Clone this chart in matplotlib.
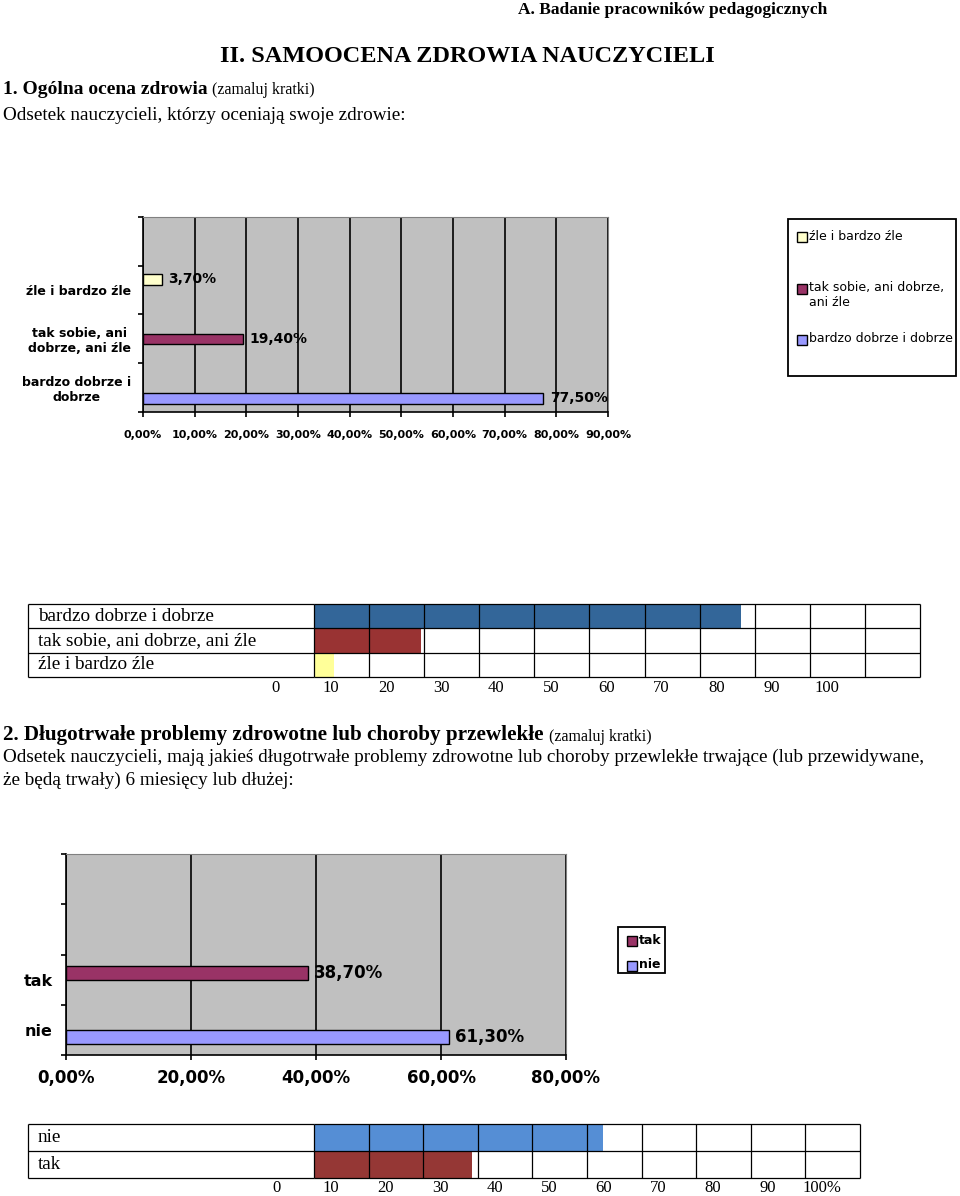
import matplotlib.pyplot as plt
from matplotlib.patches import Rectangle

W, H = 960, 1196
SERIF = 'Liberation Serif'

# --- chart 1: ogólna ocena zdrowia (bottom -> top)
cats1 = ['bardzo dobrze i\ndobrze', 'tak sobie, ani\ndobrze, ani źle', 'źle i bardzo źle']
vals1 = [77.5, 19.4, 3.7]
colors1 = ['#9999FF', '#993366', '#FFFFCC']
legend1 = ['bardzo dobrze i dobrze', 'tak sobie, ani dobrze,\nani źle', 'źle i bardzo źle']
xticks1 = [0, 10, 20, 30, 40, 50, 60, 70, 80, 90]

# --- table 1 (zamaluj kratki), top -> bottom
rows1 = ['bardzo dobrze i dobrze', 'tak sobie, ani dobrze, ani źle', 'źle i bardzo źle']
shade1 = [77.5, 19.4, 3.7]
gridcol1 = ['#336699', '#993333', '#FFFF99']
scale1 = ['0', '10', '20', '30', '40', '50', '60', '70', '80', '90', '100']

# --- chart 2: długotrwałe problemy zdrowotne (bottom -> top)
cats2 = ['nie', 'tak']
vals2 = [61.3, 38.7]
colors2 = ['#9999FF', '#993366']
xticks2 = [0, 20, 40, 60, 80]

# --- table 2, top -> bottom
rows2 = ['nie', 'tak']
shade2 = [53, 29]
gridcol2 = ['#558ED5', '#953735']
scale2 = ['0', '10', '20', '30', '40', '50', '60', '70', '80', '90', '100%']


def pct(v):
    return f"{v:.2f}%".replace('.', ',')


def fbox(x0, y0, x1, y1):
    # pixel box (y down) -> figure fraction
    return [x0 / W, 1 - y1 / H, (x1 - x0) / W, (y1 - y0) / H]


fig = plt.figure(figsize=(W / 100, H / 100), dpi=100)
bg = fig.add_axes([0, 0, 1, 1])
bg.set_xlim(0, W)
bg.set_ylim(H, 0)
bg.axis('off')

# page text
bg.text(827, 10, 'A. Badanie pracowników pedagogicznych', family=SERIF, weight='bold',
        fontsize=12.5, ha='right', va='center')
bg.text(467, 57, 'II. SAMOOCENA ZDROWIA NAUCZYCIELI', family=SERIF, weight='bold',
        fontsize=17.5, ha='center', va='center')
t = bg.text(3, 90, '1. Ogólna ocena zdrowia ', family=SERIF, weight='bold', fontsize=14, va='center')
bg.annotate('(zamaluj kratki)', xycoords=t, xy=(1, 0), va='bottom', family=SERIF, fontsize=11.5)
bg.text(3, 115, 'Odsetek nauczycieli, którzy oceniają swoje zdrowie:', family=SERIF,
        fontsize=13.8, va='center')
t = bg.text(3, 735, '2. Długotrwałe problemy zdrowotne lub choroby przewlekłe ', family=SERIF,
            weight='bold', fontsize=15.2, va='center')
bg.annotate('(zamaluj kratki)', xycoords=t, xy=(1, 0), va='bottom', family=SERIF, fontsize=11.5)
bg.text(3, 757, 'Odsetek nauczycieli, mają jakieś długotrwałe problemy zdrowotne lub choroby '
        'przewlekłe trwające (lub przewidywane,', family=SERIF, fontsize=13.8, va='center')
bg.text(3, 780, 'że będą trwały) 6 miesięcy lub dłużej:', family=SERIF, fontsize=13.8, va='center')


def bar_chart(box, cats, vals, colors, xticks, h, fs_tick, fs_cat, fs_lab, pad_x, pad_y):
    ax = fig.add_axes(fbox(*box))
    ax.set_facecolor('#C0C0C0')
    n = len(vals)
    for i, (v, c) in enumerate(zip(vals, colors)):
        y = i + 0.5 + (i - (n - 1) / 2) * h
        bars = ax.barh(y, v, height=h, color=c, edgecolor='black', linewidth=1, zorder=3)
        ax.bar_label(bars, labels=[pct(v)], padding=4.5, fontsize=fs_lab, fontweight='bold')
    ax.set_xlim(xticks[0], xticks[-1])
    ax.set_ylim(0, 4)
    ax.set_xticks(xticks, labels=[pct(v) for v in xticks], fontsize=fs_tick, fontweight='bold')
    ax.set_yticks([i + 0.5 for i in range(n)], labels=cats, fontsize=fs_cat,
                  fontweight='bold', ma='center')
    ax.set_yticks(range(5), minor=True)
    ax.tick_params(axis='y', which='major', length=0, pad=pad_y)
    ax.tick_params(axis='y', which='minor', length=3.6, width=1.2)
    ax.tick_params(axis='x', length=3.6, width=1.2, pad=pad_x)
    ax.grid(axis='x', color='black', linewidth=1.2)
    ax.set_axisbelow(True)
    for s in ['top', 'right']:
        ax.spines[s].set_color('#808080')
    for s in ['left', 'bottom']:
        ax.spines[s].set_linewidth(1.2)
    return ax


bar_chart((143, 217, 608, 412), cats1, vals1, colors1, xticks1, 0.22, 8, 9, 10, 9.5, 8.6)
bar_chart((66, 854, 566, 1055), cats2, vals2, colors2, xticks2, 0.28, 12, 11.5, 12, 6.7, 9.4)


def legend_box(x0, y0, x1, y1, labels, colors, ys, fs, weight):
    bg.add_patch(Rectangle((x0, y0), x1 - x0, y1 - y0, fill=False, edgecolor='black', lw=1.3))
    for lab, c, y in zip(labels, colors, ys):
        bg.add_patch(Rectangle((x0 + 9, y - 5), 10, 10, facecolor=c, edgecolor='black', lw=1))
        bg.text(x0 + 21, y - 7.5, lab, fontsize=fs, weight=weight, va='top')


legend_box(788, 219, 956, 376, legend1[::-1], colors1[::-1], [237, 289, 340], 9, 'normal')
legend_box(618, 927, 665, 973, cats2[::-1], colors2[::-1], [941, 966], 9, 'bold')


def grid_table(box, rows, shade, colors, scale, ncol, lab_x0, scale_y):
    x0, y0, x1, y1 = box
    ax = fig.add_axes(fbox(*box))
    n = len(rows)
    ax.barh([i + 0.5 for i in range(n)], shade, height=1, color=colors, zorder=1)
    ax.vlines([10 * k for k in range(ncol + 1)], 0, n, color='black', lw=0.9, zorder=2, clip_on=False)
    ax.hlines(range(n + 1), 0, 10 * ncol, color='black', lw=0.9, zorder=2, clip_on=False)
    ax.set_xlim(0, 10 * ncol)
    ax.set_ylim(n, 0)
    ax.axis('off')
    # label column
    rh = (y1 - y0) / n
    bg.vlines(lab_x0, y0, y1, color='black', lw=0.9)
    for i, r in enumerate(rows):
        bg.text(lab_x0 + 10, y0 + rh * (i + 0.5), r, family=SERIF, fontsize=13.8, va='center')
    bg.hlines([y0 + rh * i for i in range(n + 1)], lab_x0, x0, color='black', lw=0.9)
    # scale under the table (printed shifted left in the original form)
    sy = -(scale_y - y1) / (y1 - y0)
    for k, s in enumerate(scale):
        ax.text(10 * k - 6.9, sy, s, transform=ax.get_xaxis_transform(), family=SERIF,
                fontsize=12, ha='center', va='center')
    return ax


grid_table((314, 604, 920, 677), rows1, shade1, gridcol1, scale1, 11, 28, 688)
grid_table((314, 1124, 860, 1178), rows2, shade2, gridcol2, scale2, 10, 28, 1188)

fig.savefig('out.png', dpi=100)
